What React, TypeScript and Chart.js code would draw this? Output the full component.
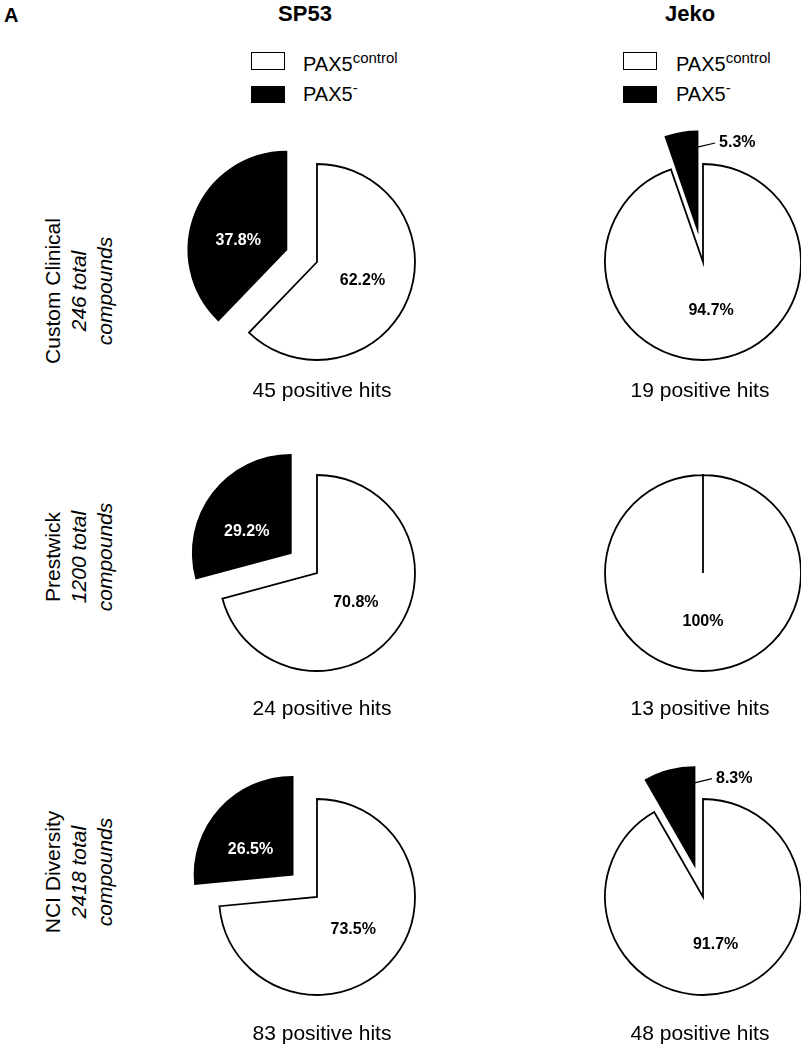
import React, { useEffect, useRef } from "react";
import { Chart, registerables } from "chart.js";

Chart.register(...registerables);

// ---------- data ----------
const panelLetter = "A";
const columnTitles = ["SP53", "Jeko"];
const libraryNames = ["Custom Clinical", "Prestwick", "NCI Diversity"];
const libraryTotals = [246, 1200, 2418];
const sliceLabels = ["PAX5control", "PAX5-"];
const sp53Control = [62.2, 70.8, 73.5];
const sp53Negative = [37.8, 29.2, 26.5];
const jekoControl = [94.7, 100, 91.7];
const jekoNegative = [5.3, 0, 8.3];
const sp53Hits = [45, 24, 83];
const jekoHits = [19, 13, 48];

// ---------- layout / style ----------
const FONT = "'Liberation Sans', Arial, Helvetica, sans-serif";
const RADIUS = 98;
const EXPLODE = 33;
const CANVAS = 290;
const colX = [317, 703];
const rowY = [262, 573, 897];
const captionX = [322, 700];
const captionY = [390, 708, 1033];
const rowLabelX = 79;
const rowLabelY = [291, 557, 872];
const titleX = [305, 690];
const legendBoxX = [251, 623];
const legendTextX = [303, 676];
const BLACK_LABEL_TURN = -0.2;

const fmt = (v: number) => (v === 100 ? "100%" : v.toFixed(1) + "%");

const explodePlugin = {
  id: "explodeSlice",
  beforeDatasetsDraw(chart: any) {
    const meta = chart.getDatasetMeta(0);
    const cx = (chart.chartArea.left + chart.chartArea.right) / 2;
    const cy = (chart.chartArea.top + chart.chartArea.bottom) / 2;
    meta.data.forEach((arc: any, i: number) => {
      const mid = (arc.startAngle + arc.endAngle) / 2;
      const d = i === 1 ? EXPLODE : 0;
      arc.x = cx + Math.cos(mid) * d;
      arc.y = cy + Math.sin(mid) * d;
    });
  },
};

const labelPlugin = {
  id: "sliceLabels",
  afterDatasetsDraw(chart: any) {
    const ctx = chart.ctx;
    const meta = chart.getDatasetMeta(0);
    const values = chart.data.datasets[0].data as number[];
    meta.data.forEach((arc: any, i: number) => {
      const v = values[i];
      if (!v) return;
      const R = arc.outerRadius;
      const mid = (arc.startAngle + arc.endAngle) / 2;
      const txt = fmt(v);
      ctx.save();
      ctx.font = `bold 16px ${FONT}`;
      ctx.textBaseline = "middle";
      if (v >= 10) {
        ctx.textAlign = "center";
        ctx.fillStyle = i === 1 ? "#ffffff" : "#000000";
        const a = i === 1 ? mid + BLACK_LABEL_TURN : mid;
        ctx.fillText(txt, arc.x + Math.cos(a) * R * 0.5, arc.y + Math.sin(a) * R * 0.5);
      } else {
        const a0 = arc.endAngle;
        const sx = arc.x + Math.cos(a0) * R * 0.84;
        const sy = arc.y + Math.sin(a0) * R * 0.84;
        const a1 = arc.endAngle + 0.2;
        const ex = arc.x + Math.cos(a1) * R * 0.9;
        const ey = arc.y + Math.sin(a1) * R * 0.9;
        ctx.strokeStyle = "#000000";
        ctx.lineWidth = 1.2;
        ctx.beginPath();
        ctx.moveTo(sx, sy);
        ctx.lineTo(ex, ey);
        ctx.stroke();
        ctx.textAlign = "left";
        ctx.fillStyle = "#000000";
        ctx.fillText(txt, ex + 4, ey);
      }
      ctx.restore();
    });
  },
};

function PieCanvas({ control, negative, cx, cy }: { control: number; negative: number; cx: number; cy: number }) {
  const ref = useRef<HTMLCanvasElement>(null);
  useEffect(() => {
    const chart = new Chart(ref.current as HTMLCanvasElement, {
      type: "pie",
      data: {
        labels: sliceLabels,
        datasets: [
          {
            data: [control, negative],
            backgroundColor: ["#ffffff", "#000000"],
            borderColor: "#000000",
            borderWidth: 1.8,
            borderJoinStyle: "miter",
          } as any,
        ],
      },
      options: {
        responsive: false,
        animation: false,
        events: [],
        radius: RADIUS,
        layout: { padding: 0 },
        plugins: { legend: { display: false }, tooltip: { enabled: false }, title: { display: false } },
      } as any,
      plugins: [explodePlugin, labelPlugin],
    });
    return () => chart.destroy();
  }, [control, negative]);
  return (
    <canvas
      ref={ref}
      width={CANVAS}
      height={CANVAS}
      style={{ position: "absolute", left: cx - CANVAS / 2, top: cy - CANVAS / 2, width: CANVAS, height: CANVAS }}
    />
  );
}

function Legend({ col }: { col: number }) {
  const bx = legendBoxX[col];
  const tx = legendTextX[col];
  const text: React.CSSProperties = { position: "absolute", left: tx, fontSize: 20, lineHeight: "24px", whiteSpace: "nowrap" };
  return (
    <>
      <div style={{ position: "absolute", left: bx, top: 52, width: 34, height: 18, border: "1.5px solid #000", boxSizing: "border-box", background: "#fff" }} />
      <div style={{ ...text, top: 64 - 12 }}>
        PAX5<span style={{ fontSize: 15, position: "relative", top: -8 }}>control</span>
      </div>
      <div style={{ position: "absolute", left: bx, top: 86, width: 34, height: 17, background: "#000" }} />
      <div style={{ ...text, top: 94 - 12 }}>
        PAX5<span style={{ fontSize: 15, position: "relative", top: -8 }}>-</span>
      </div>
    </>
  );
}

export default function App() {
  const controls = [sp53Control, jekoControl];
  const negatives = [sp53Negative, jekoNegative];
  const hits = [sp53Hits, jekoHits];
  return (
    <div
      style={{
        position: "absolute",
        left: 0,
        top: 0,
        width: 801,
        height: 1050,
        overflow: "hidden",
        background: "#ffffff",
        fontFamily: FONT,
        color: "#000",
      }}
    >
      <div style={{ position: "absolute", left: 4, top: 3, fontSize: 20, fontWeight: "bold", lineHeight: "24px" }}>{panelLetter}</div>
      {columnTitles.map((t, c) => (
        <div
          key={t}
          style={{ position: "absolute", left: titleX[c] - 100, width: 200, top: 1, textAlign: "center", fontSize: 22, fontWeight: "bold", lineHeight: "26px" }}
        >
          {t}
        </div>
      ))}
      <Legend col={0} />
      <Legend col={1} />
      {libraryNames.map((name, r) => (
        <div
          key={name}
          style={{
            position: "absolute",
            left: rowLabelX - 110,
            top: rowLabelY[r] - 39,
            width: 220,
            height: 78,
            textAlign: "center",
            fontSize: 21,
            lineHeight: "26px",
            transform: "rotate(-90deg)",
            transformOrigin: "50% 50%",
          }}
        >
          <div>{name}</div>
          <div style={{ fontStyle: "italic" }}>{libraryTotals[r]} total</div>
          <div style={{ fontStyle: "italic" }}>compounds</div>
        </div>
      ))}
      {[0, 1].map((c) =>
        rowY.map((y, r) => (
          <React.Fragment key={`${c}-${r}`}>
            <PieCanvas control={controls[c][r]} negative={negatives[c][r]} cx={colX[c]} cy={y} />
            <div
              style={{
                position: "absolute",
                left: captionX[c] - 120,
                width: 240,
                top: captionY[r] - 12,
                textAlign: "center",
                fontSize: 21,
                lineHeight: "24px",
                whiteSpace: "nowrap",
              }}
            >
              {hits[c][r]} positive hits
            </div>
          </React.Fragment>
        ))
      )}
    </div>
  );
}
